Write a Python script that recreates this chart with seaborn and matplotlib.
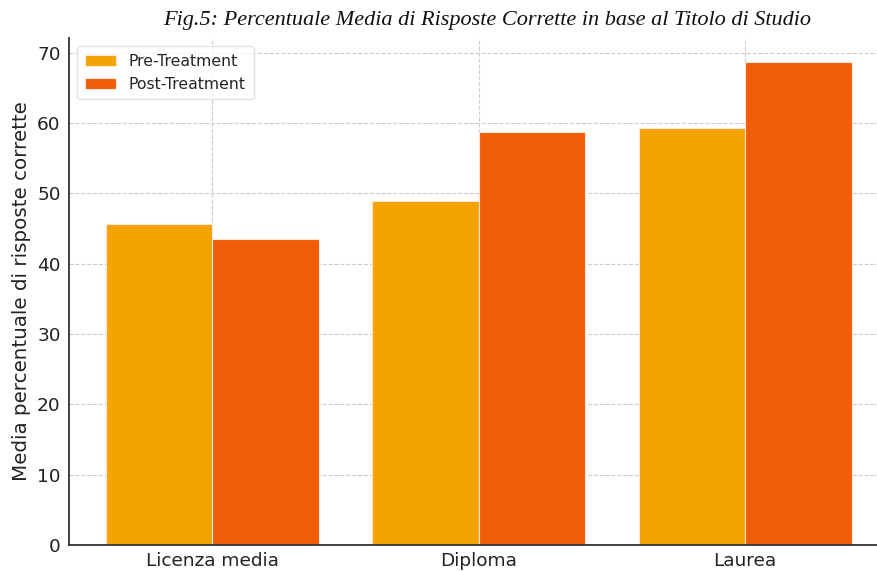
import matplotlib
matplotlib.use("Agg")
import matplotlib.pyplot as plt
import seaborn as sns
import pandas as pd

categories = ["Licenza media", "Diploma", "Laurea"]
pre_treatment = [45.7, 48.9, 59.3]
post_treatment = [43.5, 58.8, 68.7]
series_names = ["Pre-Treatment", "Post-Treatment"]
title = "Fig.5: Percentuale Media di Risposte Corrette in base al Titolo di Studio"
ylabel = "Media percentuale di risposte corrette"

df = pd.DataFrame({
    "Titolo": categories * 2,
    "Valore": pre_treatment + post_treatment,
    "Serie": [series_names[0]] * 3 + [series_names[1]] * 3,
})

sns.set_theme(style="white")
plt.rcParams["font.family"] = ["DejaVu Sans"]

fig = plt.figure(figsize=(8.77, 5.71), dpi=100)
ax = fig.add_axes([0.0787, 0.0455, 0.935, 0.888])

palette = {"Pre-Treatment": "#F4A402", "Post-Treatment": "#F15D07"}
sns.barplot(data=df, x="Titolo", y="Valore", hue="Serie", palette=palette,
            width=0.8, saturation=1, edgecolor="#FFE8D8", linewidth=0.8, ax=ax)

ax.set_xlim(-0.537, 2.54)
ax.set_ylim(0, 72.1)
ax.set_axisbelow(True)
ax.grid(True, linestyle="--", color="#cccccc", linewidth=0.8)
for s in ["top", "right"]:
    ax.spines[s].set_visible(False)
for s in ["left", "bottom"]:
    ax.spines[s].set_color("#333333")
    ax.spines[s].set_linewidth(1.3)
ax.tick_params(axis="both", direction="in", length=4, width=1, colors="#333333",
               labelsize=13.3, labelcolor="#222222")
ax.tick_params(axis="x", pad=5)
ax.tick_params(axis="y", pad=6)
ax.set_xlabel("")
ax.set_ylabel(ylabel, fontsize=14.3, color="#222222")
ax.yaxis.set_label_coords(-0.046, 0.5)

leg = ax.legend(loc="upper left", fontsize=11.3, frameon=True, title=None,
                handlelength=2.0, borderpad=0.5)
leg.get_frame().set_edgecolor("#dddddd")

fig.text(0.556, 0.964, title, ha="center", va="center",
         fontsize=16.0, style="italic", family=["Liberation Serif"], color="#111111")

fig.savefig("out.png", dpi=100)
